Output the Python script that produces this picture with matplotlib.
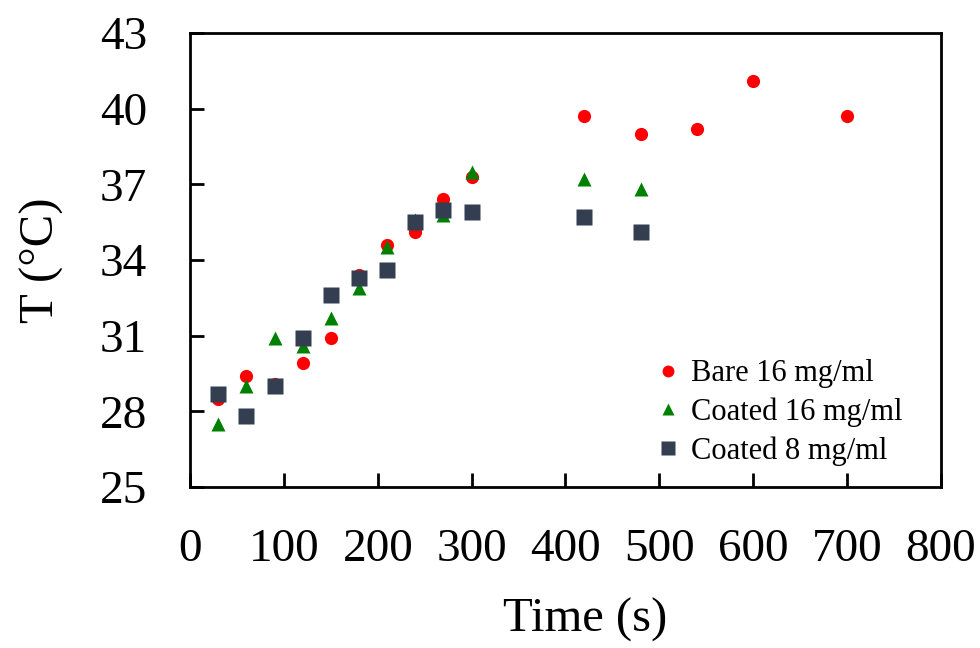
import matplotlib
matplotlib.use("Agg")
import matplotlib.pyplot as plt

plt.rcParams['font.family'] = ['Liberation Serif', 'DejaVu Serif']

# time (s)
t_bare = [30, 60, 90, 120, 150, 180, 210, 240, 270, 300, 420, 480, 540, 600, 700]
T_bare = [28.5, 29.4, 29.1, 29.9, 30.9, 33.4, 34.6, 35.1, 36.4, 37.3, 39.7, 39.0, 39.2, 41.1, 39.7]

t_c16 = [30, 60, 90, 120, 150, 180, 210, 240, 270, 300, 420, 480]
T_c16 = [27.5, 29.0, 30.9, 30.6, 31.7, 32.9, 34.5, 35.6, 35.8, 37.5, 37.2, 36.8]

t_c8 = [30, 60, 90, 120, 150, 180, 210, 240, 270, 300, 420, 480]
T_c8 = [28.7, 27.8, 29.0, 30.9, 32.6, 33.3, 33.6, 35.5, 36.0, 35.9, 35.7, 35.1]

xticks = [0, 100, 200, 300, 400, 500, 600, 700, 800]
yticks = [25, 28, 31, 34, 37, 40, 43]

fig = plt.figure(figsize=(9.8, 6.48), dpi=100)
ax = fig.add_axes([0.194, 0.2485, 0.766, 0.7005])

ax.plot(t_bare, T_bare, 'o', color='#FF0000', ms=9.5, mec='none', label='Bare 16 mg/ml')
ax.plot(t_c16, T_c16, '^', color='#008000', ms=10, mec='none', label='Coated 16 mg/ml')
ax.plot(t_c8, T_c8, 's', color='#333F50', ms=11, mec='none', label='Coated 8 mg/ml')

ax.set_xlim(0, 800)
ax.set_ylim(25, 43)
ax.set_xticks(xticks)
ax.set_yticks(yticks)
ax.tick_params(direction='in', length=10, width=2, labelsize=34)
ax.tick_params(axis='y', pad=31)
ax.tick_params(axis='x', pad=30)
for s in ax.spines.values():
    s.set_linewidth(2)
    s.set_color('black')

ax.set_xlabel('Time (s)', fontsize=35)
ax.set_ylabel('T (°C)', fontsize=35)
ax.xaxis.set_label_coords(0.526, -0.245)
ax.yaxis.set_label_coords(-0.168, 0.5)

ax.legend(loc='lower right', bbox_to_anchor=(0.985, -0.014), frameon=False, fontsize=22,
          handletextpad=0.2, labelspacing=0.3, markerscale=0.9, handlelength=1.1)

fig.savefig('out.png', dpi=100)
